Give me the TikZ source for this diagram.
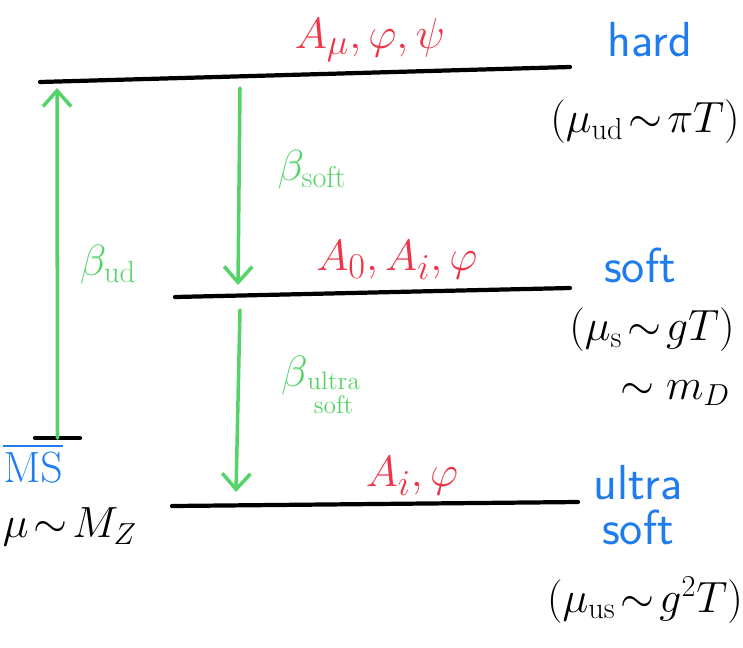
\documentclass[tikz,border=0pt]{standalone}
\usepackage{amsmath}
\usepackage{tikz}
\usetikzlibrary{arrows.meta,calc,positioning}
\definecolor{hred}{RGB}{238,52,72}
\definecolor{hgreen}{RGB}{84,212,104}
\definecolor{hblue}{RGB}{30,124,238}
\tikzset{level/.style={line width=2.4pt,line cap=round},
 flow/.style={hgreen,line width=2pt,line cap=round,-{Straight Barb[length=9pt,width=16pt,line width=2pt]}},
 fld/.style={hred,inner sep=0pt,font=\fontsize{30}{32}\selectfont},
 scl/.style={hblue,inner sep=0pt,align=center,font=\fontsize{28}{26}\selectfont\sffamily},
 rng/.style={inner sep=0pt,font=\fontsize{27}{30}\selectfont},
 beta/.style={hgreen,inner sep=0pt,font=\fontsize{27}{30}\selectfont}}
\begin{document}
\begin{tikzpicture}[x=.02cm,y=-.02cm]
\useasboundingbox(0,0)rectangle(743,647);
% the three scales
\coordinate(h1)at(40,82);\coordinate(h2)at(570,67);\draw[level](h1)--(h2);
\coordinate(s1)at(175,297);\coordinate(s2)at(570,288);\draw[level](s1)--(s2);
\coordinate(u1)at(172,506);\coordinate(u2)at(578,502);\draw[level](u1)--(u2);
\coordinate(m1)at(35,438);\coordinate(m2)at(80,438);\draw[level](m1)--(m2);
% fields
\node[fld](fh)at(370,40){$A_\mu,\varphi,\psi$};
\node[fld](fs)at(397,260){$A_0,A_i,\varphi$};
\node[fld](fu)at(412,476){$A_i,\varphi$};
% scale names
\node[scl](nh)at(650,40){hard};
\node[scl](ns)at(640,265){soft};
\node[scl](nu)at(638,505){ultra\\soft};
\node[scl](nm)at(33,463){$\overline{\mathrm{MS}}$};
\node[rng](rh)at(645,122){$(\mu_{\mathrm{ud}}\!\sim\!\pi T)$};
\node[rng](rs)at(652,330){$(\mu_{\mathrm{s}}\!\sim\!gT)$};
\node[rng](rd)at(675,393){$\sim m_D$};
\node[rng](ru)at(645,600){$(\mu_{\mathrm{us}}\!\sim\!g^2T)$};
\node[rng](rm)at(70,527){$\mu\!\sim\!M_Z$};
% running between them
\coordinate(a1)at($(m1)!.5!(m2)$);\coordinate(a2)at(57,88);\draw[flow](a1)--(a2);
\coordinate(b1)at(240,88);\coordinate(b2)at(238,285);\draw[flow](b1)--(b2);
\coordinate(c1)at(240,310);\coordinate(c2)at(236,492);\draw[flow](c1)--(c2);
\node[beta](bu)at(108,265){$\beta_{\mathrm{ud}}$};
\node[beta](bs)at(312,170){$\beta_{\mathrm{soft}}$};
\node[beta,align=left](bx)at(322,385){$\beta_{\genfrac{}{}{0pt}{}{\mathrm{ultra}}{\mathrm{soft}}}$};
\end{tikzpicture}
\end{document}
